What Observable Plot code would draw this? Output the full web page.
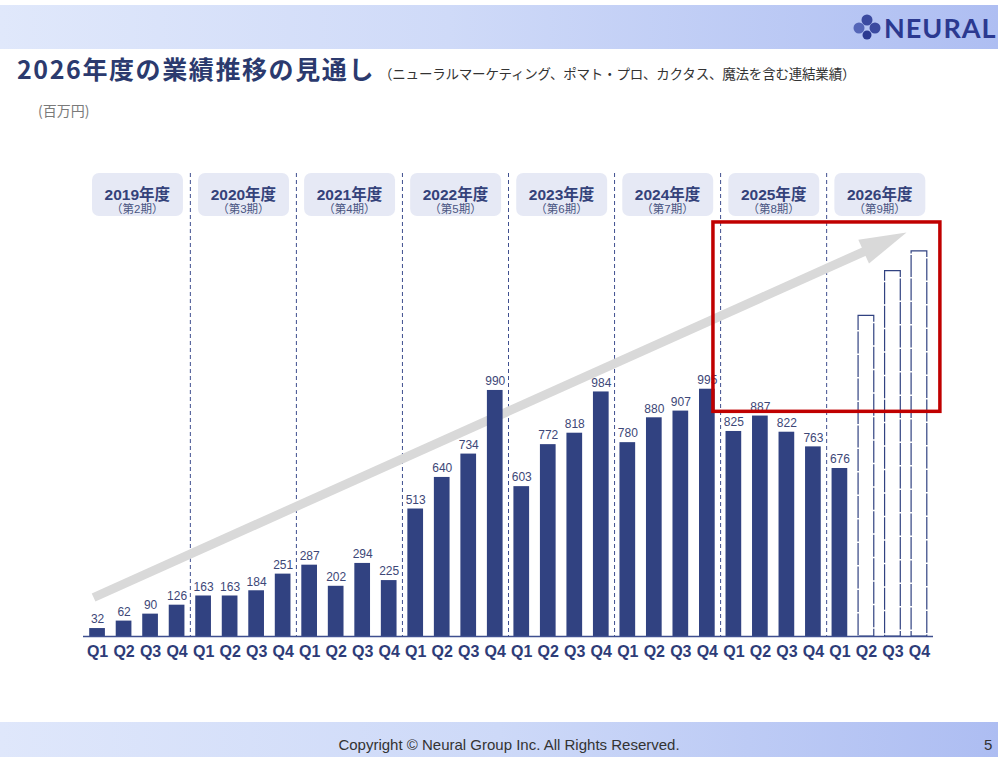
<!DOCTYPE html>
<html><head><meta charset="utf-8">
<script src="https://cdn.jsdelivr.net/npm/d3@7"></script>
<script src="https://cdn.jsdelivr.net/npm/@observablehq/plot@0.6"></script>
<style>
body{margin:0;background:#fff;}
#page{position:relative;width:998px;height:757px;overflow:hidden;font-family:"Noto Sans CJK JP","Noto Sans",sans-serif;}
#header{position:absolute;left:0;top:5px;width:998px;height:44px;background:linear-gradient(90deg,#e0e8fb 0%,#cfdaf8 45%,#aebef2 100%);z-index:1;}
#logo{position:absolute;left:853px;top:10px;height:34px;display:flex;align-items:center;z-index:2;white-space:nowrap;}
#logo span{font-family:Lato,"Liberation Sans",sans-serif;font-weight:700;font-size:27px;color:#2b3990;letter-spacing:1px;margin-left:3px;}
#title{position:absolute;left:17px;top:52px;z-index:2;white-space:nowrap;font-size:25px;font-weight:700;color:#2b3a6e;line-height:32px;letter-spacing:1.6px;}
#subtitle{font-size:13.5px;font-weight:400;color:#333;letter-spacing:-0.2px;margin-left:4px;}
#unit{position:absolute;left:38px;top:100px;font-size:14px;color:#7a7a7a;line-height:20px;z-index:2;}
#footer{position:absolute;left:0;top:722px;width:998px;height:35px;background:linear-gradient(90deg,#dfe7fb 0%,#cdd9f8 50%,#adbdf2 100%);z-index:1;}
#copy{position:absolute;left:0;width:998px;top:734px;text-align:center;font-family:"Liberation Sans",sans-serif;font-size:15px;color:#333;line-height:22px;z-index:2;padding-left:20px;box-sizing:border-box;}
#pageno{position:absolute;left:984px;top:734px;font-family:"Liberation Sans",sans-serif;font-size:15px;color:#333;line-height:22px;z-index:2;}
#chart{position:absolute;left:0;top:0;z-index:3;}
</style></head><body>
<div id="page">
  <div id="header"></div>
  <div id="logo"><svg width="28" height="26" viewBox="0 0 28 26"><circle cx="14" cy="6" r="5.5" fill="#3b4aa0"/><circle cx="6" cy="14" r="5.5" fill="#5566b8"/><circle cx="22" cy="14" r="5.5" fill="#3b4aa0"/><circle cx="14" cy="21" r="4.5" fill="#2b3990"/></svg><span>NEURAL</span></div>
  <div id="title">2026年度の業績推移の見通し<span id="subtitle">（ニューラルマーケティング、ポマト・プロ、カクタス、魔法を含む連結業績）</span></div>
  <div id="unit">(百万円)</div>
  <div id="chart"></div>
  <div id="footer"></div>
  <div id="copy">Copyright © Neural Group Inc. All Rights Reserved.</div>
  <div id="pageno">5</div>
</div>
<script>
// ---- data ----
const years = ["2019年度","2020年度","2021年度","2022年度","2023年度","2024年度","2025年度","2026年度"];
const periods = ["（第2期）","（第3期）","（第4期）","（第5期）","（第6期）","（第7期）","（第8期）","（第9期）"];
const quarters = ["Q1","Q2","Q3","Q4"];
const actualValues = [32,62,90,126, 163,163,184,251, 287,202,294,225, 513,640,734,990,
                      603,772,818,984, 780,880,907,995, 825,887,822,763, 676];
const forecastValues = [1290,1470,1550]; // 2026 Q2–Q4 outlook (unlabeled outlines)
const trendArrow = {x1:-0.15, y1:157, x2:28.93, y2:1550};        // gray trend arrow (index, 百万円)
const highlightBox = {x1:23.23, x2:31.79, y1:904, y2:1666};      // red highlight frame
const yearBand = {y1:1690, y2:1863};                              // year label boxes

// ---- tables ----
const actual = actualValues.map((v,i)=>({i, v}));
const forecast = forecastValues.map((v,j)=>({i: actualValues.length + j, v}));
const allBars = actual.concat(forecast);
const yearRows = years.map((y,k)=>({k, y, p: periods[k]}));
const separators = d3.range(1, years.length).map(k => k*4 - 0.5);

const W = 998, H = 757, mL = 83, mR = 65, mT = 173, mB = 121;
const xDomain = [-0.53, 31.53], yDomain = [0, 1863];
const navy = "#314281";

// arrow head angle via the same scales
const sx = Plot.scale({x:{type:"linear", domain:xDomain, range:[mL, W-mR]}});
const sy = Plot.scale({y:{type:"linear", domain:yDomain, range:[H-mB, mT]}});
const dxp = sx.apply(trendArrow.x2) - sx.apply(trendArrow.x1);
const dyp = sy.apply(trendArrow.y2) - sy.apply(trendArrow.y1);
const headAngle = Math.atan2(dxp, -dyp) * 180 / Math.PI;
const headSymbol = {draw(ctx){ ctx.moveTo(0,-46); ctx.lineTo(13,1); ctx.lineTo(-13,1); ctx.closePath(); }};

const plot = Plot.plot({
  width: W, height: H,
  marginLeft: mL, marginRight: mR, marginTop: mT, marginBottom: mB,
  style: {background: "transparent", fontFamily: "'Liberation Sans','Noto Sans CJK JP',sans-serif"},
  x: {type: "linear", domain: xDomain, axis: null},
  y: {type: "linear", domain: yDomain, axis: null},
  marks: [
    Plot.rect(yearRows, {x1: d => d.k*4 - 0.19, x2: d => d.k*4 + 3.24, y1: yearBand.y1, y2: yearBand.y2, fill: "#e6e9f5", rx: 7}),
    Plot.ruleX(separators, {stroke: "#3f4f8f", strokeWidth: 1, strokeDasharray: "4,3"}),
    Plot.text(yearRows, {x: d => d.k*4 + 1.5, frameAnchor: "top", dy: 15, text: "y", fontSize: 15.5, fontWeight: "bold", fill: "#34427a"}),
    Plot.text(yearRows, {x: d => d.k*4 + 1.5, frameAnchor: "top", dy: 31.5, text: "p", fontSize: 11.5, fill: "#4a5582"}),
    Plot.link([trendArrow], {x1: "x1", y1: "y1", x2: "x2", y2: "y2", stroke: "#d9d9d9", strokeWidth: 9}),
    Plot.dot([trendArrow], {x: "x2", y: "y2", symbol: headSymbol, fill: "#d9d9d9", stroke: "none", rotate: headAngle, r: 10}),
    Plot.rectY(actual, {x1: d => d.i - 0.296, x2: d => d.i + 0.296, y: "v", fill: navy}),
    Plot.rectY(forecast, {x1: d => d.i - 0.296, x2: d => d.i + 0.296, y: "v", fill: "white", stroke: navy, strokeWidth: 1.2, strokeDasharray: "22,1.5"}),
    Plot.ruleY([0], {stroke: "#3f4f8f", strokeWidth: 1.5}),
    Plot.text(actual, {x: "i", y: "v", text: d => String(d.v), dy: -9, fontSize: 12, fill: "#3d4777"}),
    Plot.text(allBars, {x: "i", y: d => 0, text: d => quarters[d.i % 4], dy: 15, fontSize: 16, fontWeight: "bold", fill: "#2e3c78"}),
    Plot.rect([highlightBox], {x1: "x1", x2: "x2", y1: "y1", y2: "y2", fill: "none", stroke: "#c00000", strokeWidth: 3.5})
  ]
});
document.getElementById("chart").appendChild(plot);
</script>
</body></html>
